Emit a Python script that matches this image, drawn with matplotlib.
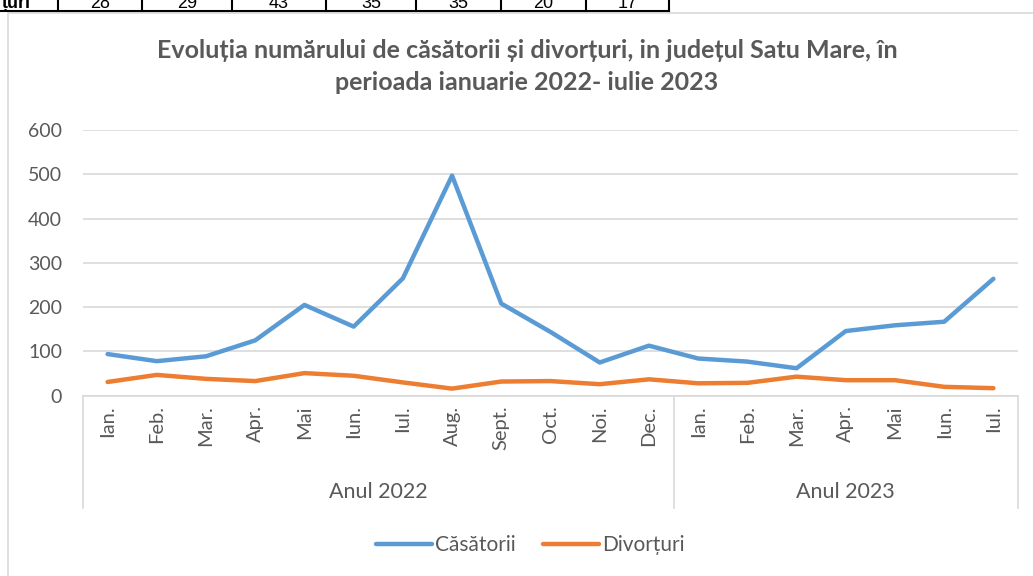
import matplotlib
matplotlib.use('Agg')
import matplotlib.pyplot as plt
import matplotlib.transforms as mtransforms
from matplotlib.patches import Rectangle
from matplotlib.lines import Line2D

plt.rcParams['font.family'] = ['Lato', 'DejaVu Sans']

# data
months = ['Ian.', 'Feb.', 'Mar.', 'Apr.', 'Mai', 'Iun.', 'Iul.', 'Aug.', 'Sept.', 'Oct.', 'Noi.', 'Dec.',
          'Ian.', 'Feb.', 'Mar.', 'Apr.', 'Mai', 'Iun.', 'Iul.']
years = ['Anul 2022', 'Anul 2023']
months_per_year = [12, 7]
casatorii = [94, 78, 89, 125, 205, 156, 265, 497, 208, 144, 75, 113,
             84, 77, 62, 146, 159, 167, 264]
divorturi = [31, 47, 38, 33, 51, 45, 30, 16, 32, 33, 26, 37,
             28, 29, 43, 35, 35, 20, 17]

# table row peeking in at the top of the screenshot
table_label = 'țuri'
table_values = [28, 29, 43, 35, 35, 20, 17]

W, H = 1033, 576
fig = plt.figure(figsize=(W / 100, H / 100), dpi=100)

def fx(px):
    return px / W

def fy(py):
    return 1 - py / H

text_col = '#595959'
grid_col = '#D9D9D9'
blue = '#5B9BD5'
orange = '#ED7D31'

# chart frame
fig.patches.append(Rectangle((fx(7.5), fy(H + 5)), fx(W + 10), fy(12.5) - fy(H + 5),
                             transform=fig.transFigure, fill=False, edgecolor=grid_col, lw=1.2))

# cut-off table row at the very top
edges = [58, 142, 232, 326, 416, 501, 586, 669]
fig.add_artist(Line2D([0, fx(669)], [fy(11), fy(11)], color='black', lw=1.5, transform=fig.transFigure))
for e in edges:
    fig.add_artist(Line2D([fx(e), fx(e)], [fy(11), 1.0], color='black', lw=1.5, transform=fig.transFigure))
fig.text(fx(2), fy(8), table_label, fontsize=13, fontweight='bold', va='baseline', ha='left',
         family=['Liberation Sans', 'DejaVu Sans'])
for i, v in enumerate(table_values):
    fig.text(fx((edges[i] + edges[i + 1]) / 2), fy(8), str(v), fontsize=13, va='baseline', ha='center',
             family=['Liberation Sans', 'DejaVu Sans'])

ax = fig.add_axes([fx(83), fy(395.7), fx(1018 - 83), fy(130) - fy(395.7)])
x = list(range(len(months)))
ax.plot(x, casatorii, color=blue, lw=3.2, solid_capstyle='round', solid_joinstyle='round', label='Căsătorii')
ax.plot(x, divorturi, color=orange, lw=3.2, solid_capstyle='round', solid_joinstyle='round', label='Divorțuri')

ax.set_xlim(-0.5, len(months) - 0.5)
ax.set_ylim(0, 600)
ax.set_yticks(range(0, 601, 100))
ax.yaxis.grid(True, color=grid_col, lw=1.2)
ax.set_axisbelow(True)
for s in ['top', 'right', 'left']:
    ax.spines[s].set_visible(False)
ax.spines['bottom'].set_color(grid_col)
ax.spines['bottom'].set_linewidth(1.2)
ax.tick_params(axis='y', length=0, pad=15, labelsize=14, labelcolor=text_col)
ax.tick_params(axis='x', length=0, pad=7, labelsize=14.5, labelcolor=text_col)
ax.set_xticks(x)
ax.set_xticklabels(months, rotation=90)

# year group separators and labels
trans = mtransforms.blended_transform_factory(ax.transData, ax.transAxes)
depth = -(508 - 395.7) / (395.7 - 130)
bounds = [-0.5]
for n in months_per_year:
    bounds.append(bounds[-1] + n)
for b in bounds:
    ax.plot([b, b], [0, depth], color=grid_col, lw=1.2, transform=trans, clip_on=False)
label_y = -(492 - 395.7) / (395.7 - 130)
for i, yr in enumerate(years):
    ax.text((bounds[i] + bounds[i + 1]) / 2, label_y, yr, transform=trans, ha='center', va='center',
            fontsize=15.5, color=text_col)

fig.text(fx(527), fy(50), 'Evoluția numărului de căsătorii și divorțuri, in județul Satu Mare, în',
         ha='center', va='center', fontsize=18, fontweight='bold', color=text_col)
fig.text(fx(527), fy(82), 'perioada ianuarie 2022- iulie 2023',
         ha='center', va='center', fontsize=18, fontweight='bold', color=text_col)

leg = fig.legend(loc='center', bbox_to_anchor=(fx(530), fy(545)), ncol=2, frameon=False,
                 fontsize=15, handlelength=2.7, handletextpad=0.15, columnspacing=1.3)
for t in leg.get_texts():
    t.set_color(text_col)

fig.savefig('out.png', dpi=100)
